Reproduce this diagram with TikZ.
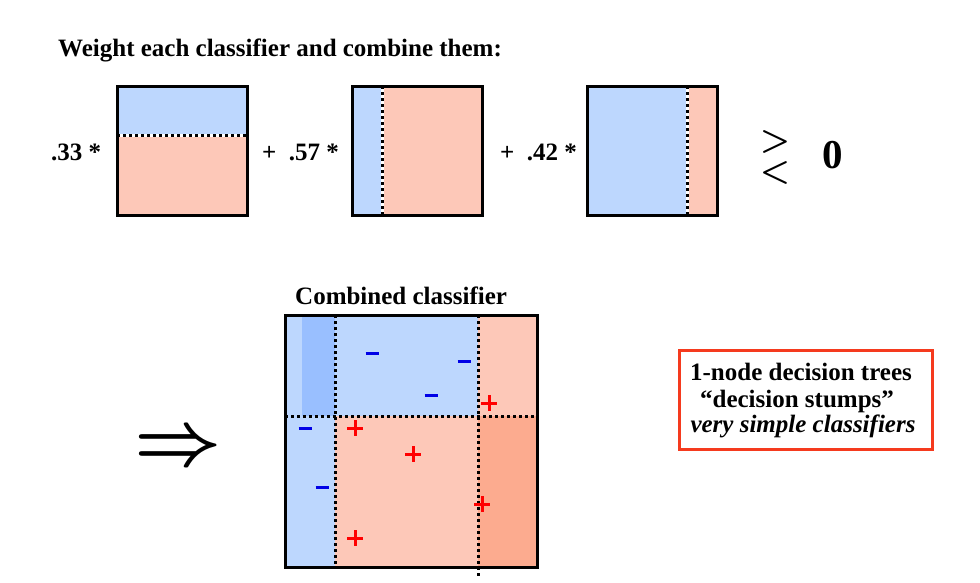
\documentclass[tikz,border=0pt]{standalone}
\usepackage{fontspec}
\setmainfont{Liberation Serif}
\definecolor{lblue}{HTML}{BDD7FE}
\definecolor{dblue}{HTML}{99BFFF}
\definecolor{lred}{HTML}{FDC8B8}
\definecolor{dred}{HTML}{FCAB8F}
\definecolor{boxred}{HTML}{F53A1E}
\definecolor{minblue}{HTML}{0000E6}
\tikzset{
  frame/.style={draw=black,line width=3pt},
  sep/.style={black,line width=3pt,dash pattern=on 3pt off 3pt},
  sepbg/.style={white,line width=3pt},
  lbl/.style={font=\bfseries\fontsize{25}{25}\selectfont,inner sep=0pt},
  minus/.style={minblue,line width=3pt},
  plus/.style={red,line width=3pt},
}
\newcommand{\mminus}[1]{\draw[minus] ($#1+(-6.5,0)$) -- ($#1+(6.5,0)$);}
\newcommand{\pplus}[1]{\draw[plus] ($#1+(-8,0)$) -- ($#1+(8,0)$); \draw[plus] ($#1+(0,-8)$) -- ($#1+(0,8)$);}
\usetikzlibrary{calc}
\begin{document}
\begin{tikzpicture}[x=1pt,y=-1pt]
\useasboundingbox[fill=white] (0,0) rectangle (980,582);
% title
\node[lbl,anchor=base west] (title) at (58,56) {Weight each classifier and combine them:};
% box 1
\fill[lblue] (117,86) rectangle (247,135);
\fill[lred] (117,135) rectangle (247,215);
\draw[sepbg] (117,135) -- (247,135);
\draw[sep] (117,135) -- (247,135);
\draw[frame] (117,86) rectangle (247,215);
% box 2
\fill[lblue] (352,86) rectangle (382,215);
\fill[lred] (382,86) rectangle (482,215);
\draw[sepbg] (382,86) -- (382,215);
\draw[sep] (382,86) -- (382,215);
\draw[frame] (352,86) rectangle (482,215);
% box 3
\fill[lblue] (587,86) rectangle (687,215);
\fill[lred] (687,86) rectangle (717,215);
\draw[sepbg] (687,86) -- (687,215);
\draw[sep] (687,86) -- (687,215);
\draw[frame] (587,86) rectangle (717,215);
% weights
\node[lbl,anchor=base west] (w1) at (51,160) {.33 *};
\node[lbl,anchor=base west] (w2) at (262,160) {+\ \ .57 *};
\node[lbl,anchor=base west] (w3) at (500,160) {+\ \ .42 *};
\node[inner sep=0pt,scale=3.4,align=center,font=\fontsize{10}{9.4}\selectfont\boldmath] (cmp) at (775,157.5) {$>$\\$<$};
\node[inner sep=0pt,anchor=base,font=\bfseries\fontsize{41}{41}\selectfont] (zero) at (832.5,168) {0};
% combined classifier
\node[lbl,anchor=base west] (ctitle) at (295,304) {Combined classifier};
\fill[lblue] (285,315) rectangle (478,416);
\fill[dblue] (302,315) rectangle (335,416);
\fill[lred] (478,315) rectangle (537,416);
\fill[lblue] (285,416) rectangle (335,567);
\fill[lred] (335,416) rectangle (478,567);
\fill[dred] (478,416) rectangle (537,567);
\draw[sep] (285,416) -- (537,416);
\draw[sep] (335,315) -- (335,567);
\draw[sep] (478,315) -- (478,577);
\draw[frame] (285,315) rectangle (537,567);
\mminus{(372,353)}
\mminus{(464,361)}
\mminus{(431,395)}
\mminus{(305,428)}
\mminus{(322,487)}
\pplus{(489,403)}
\pplus{(355,428)}
\pplus{(413,454)}
\pplus{(482,504)}
\pplus{(355,538)}
% implies arrow
\node[inner sep=0pt,scale=7.6,font=\boldmath] (arrow) at (178,450) {$\Rightarrow$};
% note box
\draw[boxred,line width=3pt] (679,350) rectangle (932,449);
\node[lbl,anchor=base] (n1) at (801,380) {1-node decision trees};
\node[lbl,anchor=base] (n2) at (797,407) {“decision stumps”};
\node[lbl,anchor=base,font=\bfseries\itshape\fontsize{25}{25}\selectfont] (n3) at (803,432) {very simple classifiers};
\end{tikzpicture}
\end{document}
